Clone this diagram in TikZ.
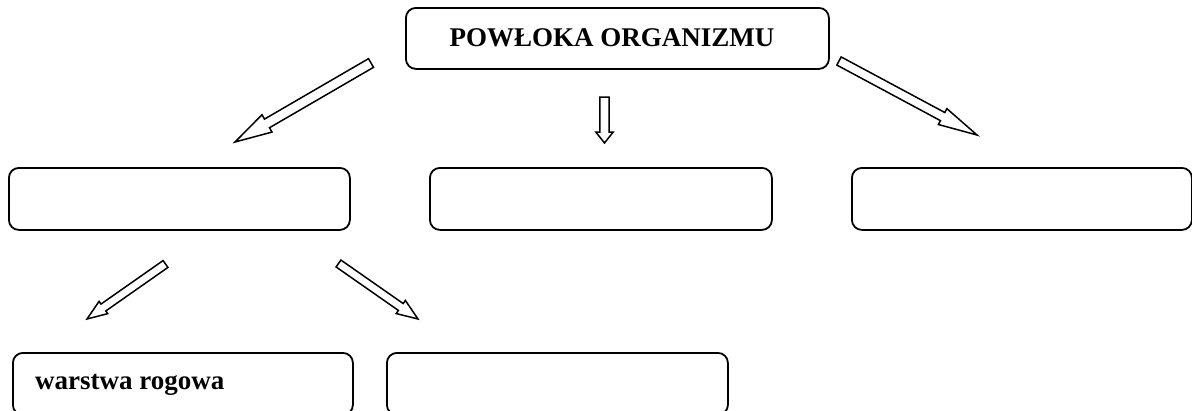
\documentclass[tikz,border=0pt]{standalone}
\usepackage{fontspec}
\setmainfont{Liberation Serif}
\usetikzlibrary{calc}
\tikzset{
  box/.style={draw, line width=1.8pt, rounded corners=10pt, anchor=north west, inner sep=0pt},
  arrowline/.style={draw, line width=1.5pt, line join=miter, fill=white},
  lbl/.style={font=\fontsize{27pt}{30pt}\selectfont\bfseries, inner sep=0pt},
}
\newcommand\hollowarrow[5]{%
  \coordinate (hn) at ($(#2)!#5!(#1)$);
  \draw[arrowline] ($(#1)!#3!90:(#2)$) -- ($(hn)!#3!-90:(#1)$) -- ($(hn)!#4!-90:(#1)$)
    -- (#2) -- ($(hn)!#4!90:(#1)$) -- ($(hn)!#3!90:(#1)$) -- ($(#1)!#3!-90:(#2)$) -- cycle;
}
\begin{document}
\begin{tikzpicture}[x=1pt,y=-1pt]
\useasboundingbox (0,0) rectangle (1192,410);
\fill[white] (0,0) rectangle (1192,410);
% boxes
\node[box, minimum width=423pt, minimum height=61pt] (top) at (405,7) {};
\node[lbl] (toplbl) at (612,38) {POWŁOKA ORGANIZMU};
\node[box, minimum width=341pt, minimum height=62pt] (m1) at (8,167) {};
\node[box, minimum width=342pt, minimum height=62pt] (m2) at (429,167) {};
\node[box, minimum width=340pt, minimum height=62pt] (m3) at (851,167) {};
\node[box, minimum width=340pt, minimum height=62pt] (b1) at (12,352) {};
\node[box, minimum width=341pt, minimum height=62pt] (b2) at (386,352) {};
\node[lbl, anchor=base west] (wr) at (35,389) {warstwa rogowa};
% arrow end points
\coordinate (a1s) at (371,63);   \coordinate (a1e) at (235,142);
\coordinate (a2s) at (604.5,97); \coordinate (a2e) at (604.5,143);
\coordinate (a3s) at (839,61);   \coordinate (a3e) at (977,135);
\coordinate (a4s) at (165.5,264);\coordinate (a4e) at (87,319);
\coordinate (a5s) at (338.5,263.5);\coordinate (a5e) at (418,319);
\hollowarrow{a1s}{a1e}{5pt}{10pt}{37pt}
\hollowarrow{a2s}{a2e}{4.7pt}{8.7pt}{11pt}
\hollowarrow{a3s}{a3e}{4.6pt}{9pt}{39pt}
\hollowarrow{a4s}{a4e}{4.2pt}{7.5pt}{20pt}
\hollowarrow{a5s}{a5e}{4.2pt}{8pt}{21pt}
\end{tikzpicture}
\end{document}
